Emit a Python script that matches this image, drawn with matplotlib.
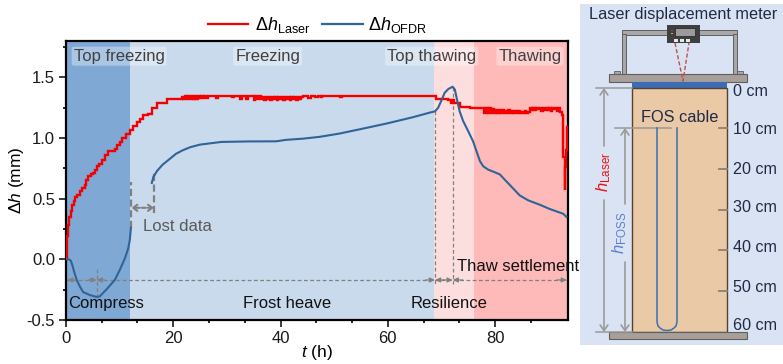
import matplotlib
matplotlib.use('Agg')
import matplotlib.pyplot as plt
from matplotlib.patches import Rectangle

plt.rcParams['font.family'] = ['Liberation Sans', 'DejaVu Sans']
plt.rcParams['mathtext.fontset'] = 'custom'
plt.rcParams['mathtext.rm'] = 'Liberation Sans'
plt.rcParams['mathtext.it'] = 'Liberation Sans:italic'
plt.rcParams['mathtext.default'] = 'regular'

# ---- data ----
rise_t = [0, .1, .19, .35, .6, .85, 1.05, 1.4, 1.7, 2.1, 2.6, 3.0, 3.5, 3.8, 4.15, 4.6, 5.1, 5.4, 5.7, 6.2, 6.65, 7.3,
          7.9, 9.1, 9.6, 10.0, 10.4, 11.1, 11.9, 12.5, 13.2, 13.8, 14.4, 15.2, 16.0, 17.0, 18.8]
rise_y = [0, .10, .19, .28, .35, .40, .45, .48, .51, .53, .56, .59, .615, .65, .685, .70, .71, .74, .77, .79, .82, .86,
          .89, .91, .94, .97, 1.0, 1.03, 1.07, 1.10, 1.13, 1.16, 1.19, 1.20, 1.25, 1.285, 1.32]
band1_t = [21.6, 21.9, 22.2, 22.5, 22.8, 23.1, 23.4, 23.7, 24.0, 24.3, 24.6, 24.9, 25.2, 25.5, 25.8, 26.1, 26.4, 26.8,
           27.9, 28.3, 31.0, 31.3, 32.5, 32.9, 33.6, 34.0, 35.0, 35.3, 35.7, 36.0, 36.3, 36.6, 36.9, 37.2, 37.5, 37.8,
           38.1, 38.4, 38.7, 39.0, 39.3, 39.6, 39.9, 40.2, 40.5, 40.8, 41.1, 41.4, 41.7, 42.0, 42.3, 42.6, 42.9, 43.2,
           43.5, 43.8, 44.2, 45.2, 45.6, 46.5, 46.9, 47.5, 47.8, 51.1, 51.4]
band1_y = [1.34, 1.32, 1.35, 1.32, 1.35, 1.32, 1.35, 1.32, 1.35, 1.32, 1.35, 1.33, 1.35, 1.33, 1.35, 1.33, 1.35, 1.35,
           1.33, 1.35, 1.335, 1.35, 1.32, 1.35, 1.32, 1.35, 1.31, 1.35, 1.325, 1.35, 1.32, 1.34, 1.31, 1.34, 1.32, 1.34,
           1.31, 1.34, 1.32, 1.34, 1.31, 1.34, 1.32, 1.34, 1.31, 1.34, 1.32, 1.34, 1.31, 1.34, 1.32, 1.34, 1.31, 1.34,
           1.32, 1.34, 1.35, 1.33, 1.35, 1.335, 1.35, 1.34, 1.35, 1.34, 1.35]
thaw_t = [68.9, 71.3, 71.8, 72.1, 72.4, 73.4, 75.3, 78.0]
thaw_y = [1.32, 1.31, 1.29, 1.31, 1.285, 1.26, 1.25, 1.21]
band2_t = [78.3, 78.6, 78.9, 79.2, 79.5, 79.8, 80.1, 80.4, 80.7, 81.0, 81.3, 81.6, 81.9, 82.2, 82.5, 82.8, 83.1, 83.4,
           83.7, 84.0, 84.3, 84.6, 84.9, 85.2, 85.5, 85.8, 86.1, 86.5,
           86.8, 87.1, 87.4, 87.7, 88.0, 88.3, 88.6, 88.9, 89.2, 89.5, 89.8, 90.1, 90.4, 90.7, 91.0, 91.3, 91.6, 91.9, 92.2, 92.4]
band2_y = [1.245, 1.21, 1.245, 1.21, 1.24, 1.21, 1.235, 1.21, 1.23, 1.21, 1.23, 1.21, 1.225, 1.21, 1.23, 1.21, 1.22, 1.21,
           1.225, 1.21, 1.22, 1.21, 1.215, 1.205, 1.22, 1.205, 1.215, 1.25,
           1.235, 1.25, 1.23, 1.25, 1.24, 1.25, 1.225, 1.25, 1.23, 1.25, 1.235, 1.25, 1.225, 1.25, 1.24, 1.25, 1.22, 1.25, 1.215, 1.19]
drop_t = [92.6, 92.75, 92.85, 92.95, 93.05, 93.15, 93.3, 93.4]
drop_y = [1.15, .84, .84, .575, .76, .89, .90, 1.09]

ofdr_t1 = [0, .5, .9, 1.2, 1.5, 2.0, 2.6, 3.2, 4.5, 5.7, 6.3, 7.5, 9.1, 10.0, 11.0, 11.6, 11.9, 12.1]
ofdr_y1 = [0, 0, -.01, -.05, -.10, -.17, -.225, -.27, -.295, -.31, -.305, -.25, -.17, -.09, .01, .09, .16, .26]
ofdr_t2 = [16.0, 16.3, 17.0, 18.0, 19.4, 20.5, 21.8, 23.2, 25.0, 29.0, 34.0, 39.2, 41.0, 44.2, 47.3, 51.0, 55.4, 59.8, 64.7, 67.85,
           68.8, 69.4, 70.0, 70.6, 71.3, 72.1, 72.5, 72.9, 73.4, 74.05, 75.0, 75.9, 76.55, 77.2, 77.8, 78.7, 80.0, 80.9,
           82.1, 83.4, 84.6, 86.2, 88.35, 90.2, 91.8, 92.7, 93.3]
ofdr_y2 = [.63, .68, .73, .78, .83, .87, .90, .925, .946, .968, .972, .973, .985, .995, 1.01, 1.037, 1.078, 1.12, 1.172, 1.21,
           1.22, 1.25, 1.31, 1.373, 1.405, 1.423, 1.40, 1.318, 1.22, 1.14, 1.056, .973, .89, .808, .767, .74, .717, .70,
           .643, .583, .527, .486, .45, .415, .39, .376, .35]

stage_edges = [0, 11.9, 68.6, 76.0, 93.6]
stage_colors = ['#7fa8d4', '#c9daed', '#fddede', '#feb9b9']
top_labels = ['Top freezing', 'Freezing', 'Top thawing', 'Thawing']
top_label_x = [9.9, 37.6, 68.2, 86.5]
bottom_labels = ['Compress', 'Frost heave', 'Resilience', 'Thaw settlement']
bottom_label_xy = [(7.5, -.365), (41.2, -.365), (71.5, -.365), (84.3, -.055)]
depth_labels = ['0 cm', '10 cm', '20 cm', '30 cm', '40 cm', '50 cm', '60 cm']

RED, BLUE, GRAY = '#f40000', '#2f6499', '#808080'

fig = plt.figure(figsize=(7.83, 3.64), dpi=100)
W, H = 783, 364
ax = fig.add_axes([66/W, 1-320/H, (568-66)/W, (320-41)/H])
ax.set_xlim(0, 93.6)
ax.set_ylim(-.5, 1.8)
for a, b, c in zip(stage_edges[:-1], stage_edges[1:], stage_colors):
    ax.axvspan(a, b, color=c, lw=0, zorder=0)

laser_t = rise_t + band1_t + thaw_t + band2_t + drop_t
laser_y = rise_y + band1_y + thaw_y + band2_y + drop_y
ax.plot(laser_t, laser_y, color=RED, lw=1.7, drawstyle='steps-post', zorder=3, solid_joinstyle='miter')
ax.plot(ofdr_t1, ofdr_y1, color=BLUE, lw=1.5, zorder=4)
ax.plot(ofdr_t2, ofdr_y2, color=BLUE, lw=1.5, zorder=4)

# guides
dash = dict(color=GRAY, lw=.9, ls=(0, (3, 2)), zorder=2)
ax.plot([0, 93.4], [-.17, -.17], **dash)
ax.plot([5.7, 5.7], [-.08, -.31], **dash)
ax.plot([68.8, 68.8], [1.22, -.2], **dash)
ax.plot([72.1, 72.1], [1.42, -.2], **dash)
for a, b in [(0.2, 1.6), (5.7, 4.2), (5.7, 7.2), (68.8, 67.0), (68.8, 70.4), (72.1, 70.4), (72.1, 74.0), (93.4, 91.5)]:
    ax.annotate('', xy=(a, -.17), xytext=(b, -.17),
                arrowprops=dict(arrowstyle='-|>,head_length=.3,head_width=.14', color=GRAY, lw=.9, shrinkA=0, shrinkB=0), zorder=2)
thick = dict(color=GRAY, lw=1.6, ls=(0, (3.2, 1.6)), zorder=2)
ax.plot([12.1, 12.1], [.26, .64], **thick)
ax.plot([16.4, 16.4], [.385, .715], **thick)
ax.annotate('', xy=(12.2, .425), xytext=(16.4, .425),
            arrowprops=dict(arrowstyle='<->,head_length=.3,head_width=.22', color=GRAY, lw=1.5, ls=(0, (2, 1)), shrinkA=0, shrinkB=0), zorder=2)
ax.text(14.3, .27, 'Lost data', fontsize=12, color='#595959', ha='left', va='center', zorder=6)

for s, x in zip(top_labels, top_label_x):
    ax.text(x, 1.675, s, fontsize=12, color='#404040', ha='center', va='center', zorder=6,
            bbox=dict(boxstyle='round,pad=.12', fc='white', ec='none', alpha=.35))
for s, (x, y) in zip(bottom_labels, bottom_label_xy):
    ax.text(x, y, s, fontsize=12, color='#111111', ha='center', va='center', zorder=6)

ax.set_xticks([0, 20, 40, 60, 80])
ax.set_xticks([6.67, 13.33, 26.67, 33.33, 46.67, 53.33, 66.67, 73.33, 86.67], minor=True)
ax.set_yticks([-.5, 0, .5, 1, 1.5])
ax.set_yticklabels(['-0.5', '0.0', '0.5', '1.0', '1.5'])
ax.set_yticks([-.25, .25, .75, 1.25, 1.75], minor=True)
ax.tick_params(which='major', length=5, width=1.2, labelsize=12, colors='#1a1a1a', pad=3)
ax.tick_params(which='minor', length=2.5, width=1.2)
for s in ax.spines.values():
    s.set_linewidth(1.6)

# ---- overlay: axis titles, legend and schematic, figure pixels ----
ov = fig.add_axes([0, 0, 1, 1], zorder=5)
ov.set_xlim(0, W)
ov.set_ylim(H, 0)
ov.axis('off')
ov.patch.set_alpha(0)

ov.text(317, 353, r'$\mathit{t}$ (h)', fontsize=12.5, ha='center', va='center')
ov.text(17, 180, r'$\mathit{Δh}$ (mm)', fontsize=12.5, rotation=90, ha='center', va='center')

ov.plot([208, 248], [24, 24], color=RED, lw=1.6)
ov.text(255, 25, r'$\Delta\mathit{h}_{Laser}$', fontsize=13, va='center', ha='left')
ov.plot([322, 363], [24, 24], color=BLUE, lw=1.6)
ov.text(368, 25, r'$\Delta\mathit{h}_{OFDR}$', fontsize=13, va='center', ha='left')


def rect(x0, y0, x1, y1, fc, ec='none', lw=0, z=1):
    ov.add_patch(Rectangle((x0, y0), x1-x0, y1-y0, fc=fc, ec=ec, lw=lw, zorder=z))


rect(580, 4, 783, 345, '#dae3f3', z=0)
FR, FE = '#a8a8a8', '#5f5f5f'
rect(622, 30, 737, 34.5, FR, FE, .7)
rect(622, 34, 626, 74, FR, FE, .7)
rect(733, 34, 737, 74, FR, FE, .7)
rect(614, 71, 620, 74, FR, FE, .6)
rect(737, 71, 743, 74, FR, FE, .6)
rect(609, 74, 747, 81.5, '#a89f9a', FE, .8)
rect(632, 81.5, 727, 88, '#3c6cb4')
rect(632, 88, 727, 332, '#eac9a6', '#54432f', 1.0, z=1)
rect(609, 332, 747, 339, '#a89f9a', FE, .8)
# device
ov.add_patch(Rectangle((667, 25), 33, 18, fc='#3f3f3f', ec='none', zorder=3))
rect(675, 28, 695, 36, '#9b9b9b', '#222222', .5, z=4)
for x in (674, 680, 686):
    rect(x, 38.5, x+4, 41.5, '#e8e8e8', z=4)
rect(670.5, 29.5, 673, 30.5, '#c0392b', z=4)
rect(670.5, 33, 673, 34, '#c8b82b', z=4)
ov.plot([675, 683, 689], [43, 81, 43], color='#c0504d', lw=1, ls=(0, (3, 1.5)), zorder=3)
# scale
for y in (128, 169, 210, 250, 291):
    ov.plot([719, 727], [y, y], color='#8a8270', lw=1.3, zorder=3)
for s, y in zip(depth_labels, [91, 130, 170, 208, 247, 287, 326]):
    ov.text(733, y, s, fontsize=11.6, color='#1f2a44', va='center', ha='left', zorder=6)
ov.text(683, 14, 'Laser displacement meter', fontsize=11.7, color='#1f2a44', va='center', ha='center')
ov.text(680, 117, 'FOS cable', fontsize=11.8, color='#1f2a44', va='center', ha='center', zorder=6)
# cable
cable_x = [657, 657, 658, 660, 663, 667, 671, 674, 676, 677, 677]
cable_y = [128, 322, 326, 328, 330, 330.5, 330, 328, 326, 322, 128]
ov.plot(cable_x, cable_y, color='#3a70b0', lw=1.1, zorder=3)
# dimension lines
G2 = '#9a9a9a'
ov.plot([596, 632], [88, 88], color=G2, lw=1.1, zorder=2)
ov.plot([615, 671], [128, 128], color=G2, lw=1.1, zorder=2)
ov.plot([596, 632], [332, 332], color=G2, lw=1.1, zorder=2)
arrow = dict(arrowstyle='->,head_length=.4,head_width=.28', color=G2, lw=1.2, shrinkA=0, shrinkB=0)
ov.annotate('', xy=(604, 88), xytext=(604, 146), arrowprops=arrow)
ov.annotate('', xy=(604, 332), xytext=(604, 200), arrowprops=arrow)
ov.annotate('', xy=(625, 128), xytext=(625, 204), arrowprops=arrow)
ov.annotate('', xy=(625, 332), xytext=(625, 262), arrowprops=arrow)
ov.text(604, 172, r'$\mathit{h}_{Laser}$', color='#f01010', fontsize=12, rotation=90, va='center', ha='center')
ov.text(620, 233, r'$\mathit{h}_{FOSS}$', color='#5b82c8', fontsize=12, rotation=90, va='center', ha='center')

fig.savefig('out.png', dpi=100)
